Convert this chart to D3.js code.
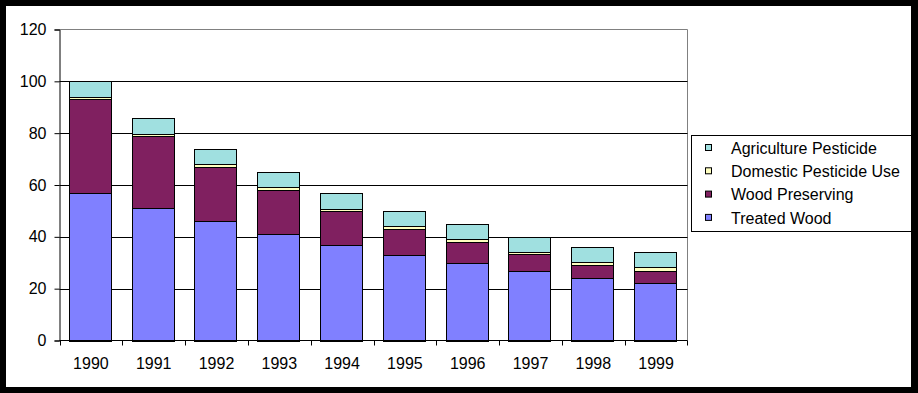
<!DOCTYPE html>
<html><head><meta charset="utf-8">
<script src="https://cdn.jsdelivr.net/npm/d3@7"></script>
<style>
html,body{margin:0;padding:0;background:#000;}
svg{display:block;}
text{font-family:"Liberation Sans",Arial,sans-serif;}
</style></head>
<body>
<script>
const years = ["1990","1991","1992","1993","1994","1995","1996","1997","1998","1999"];
const treatedWood = [57, 51, 46, 41, 37, 33, 30, 27, 24, 22];
const woodPreserving = [36, 28, 21, 17, 13, 10, 8, 6.2, 5, 5];
const domesticPesticide = [1.1, 0.8, 1, 1.1, 0.8, 1.2, 1.2, 0.9, 1.2, 1.2];
const agriculturePesticide = [5.9, 6.2, 6, 5.9, 6.2, 5.8, 5.8, 5.9, 5.8, 5.8];
const seriesNames = ["Treated Wood","Wood Preserving","Domestic Pesticide Use","Agriculture Pesticide"];
const seriesColors = ["#8080FF","#802060","#FFFFC0","#A0E0E0"];
const yTicks = [0,20,40,60,80,100,120];

const W = 918, H = 393;
const svg = d3.select("body").append("svg").attr("width", W).attr("height", H);
svg.append("rect").attr("x",0).attr("y",0).attr("width",W).attr("height",H).attr("fill","#000");
svg.append("rect").attr("x",6).attr("y",6).attr("width",905).attr("height",381).attr("fill","#fff");

const L = 59.5, R = 687.5, T = 29.5, B = 340.5;
const x = d3.scaleBand().domain(years).range([L, R]).paddingInner(0.33).paddingOuter(0.165);
const xb = d3.scaleBand().domain(years).range([L, R]);
const y = d3.scaleLinear().domain([0,120]).range([B, T]);

svg.append("path").attr("d", `M${L},${T}H${R}V${B}`).attr("fill","none").attr("stroke","#808080").attr("stroke-width",1);
svg.append("g").selectAll("line").data(yTicks.filter(d=>d>0 && d<120)).join("line")
  .attr("x1", L).attr("x2", R).attr("y1", d=>Math.round(y(d))+0.5).attr("y2", d=>Math.round(y(d))+0.5)
  .attr("stroke","#000").attr("stroke-width",1);

const rows = years.map((yr,i)=>({year:yr, "Treated Wood":treatedWood[i], "Wood Preserving":woodPreserving[i],
  "Domestic Pesticide Use":domesticPesticide[i], "Agriculture Pesticide":agriculturePesticide[i]}));
const stack = d3.stack().keys(seriesNames)(rows);
svg.append("g").selectAll("g").data(stack).join("g")
  .attr("fill", (d,i)=>seriesColors[i])
  .selectAll("rect").data(d=>d).join("rect")
  .attr("x", d=>Math.round(x(d.data.year))-0.5)
  .attr("width", Math.round(x.bandwidth()))
  .attr("y", d=>Math.round(y(d[1]))+0.5)
  .attr("height", d=>Math.round(y(d[0]))-Math.round(y(d[1])))
  .attr("stroke","#000").attr("stroke-width",1);

const ya = svg.append("g").attr("transform",`translate(${L},0)`)
  .call(d3.axisLeft(y).tickValues(yTicks).tickSize(5).tickPadding(8));
ya.select(".domain").attr("stroke","#000");
ya.selectAll("line").attr("stroke","#000");
ya.selectAll("text").attr("font-size","16px").attr("fill","#000").attr("font-family","Liberation Sans, Arial, sans-serif");

const xa = svg.append("g").attr("transform",`translate(0,${B})`);
xa.append("line").attr("x1",L).attr("x2",R).attr("stroke","#000");
xa.selectAll("line.tk").data(years.concat(["end"])).join("line").attr("class","tk")
  .attr("x1",(d,i)=>i<years.length?Math.round(xb(d))+0.5:R).attr("x2",(d,i)=>i<years.length?Math.round(xb(d))+0.5:R)
  .attr("y1",0).attr("y2",5).attr("stroke","#000");
xa.selectAll("text").data(years).join("text")
  .attr("x", d=>xb(d)+xb.bandwidth()/2).attr("y", 28.5)
  .attr("text-anchor","middle").attr("font-size","16px").attr("fill","#000").text(d=>d);

const lg = svg.append("g");
lg.append("rect").attr("x",691.5).attr("y",135.5).attr("width",225).attr("height",96).attr("fill","#fff").attr("stroke","#000");
const legendOrder = [3,2,1,0];
const lgi = lg.selectAll("g.item").data(legendOrder).join("g").attr("class","item")
  .attr("transform",(d,i)=>`translate(0,${148+i*23.3})`);
lgi.append("rect").attr("x",705.5).attr("y",-3.5).attr("width",6).attr("height",6)
  .attr("fill",d=>seriesColors[d]).attr("stroke","#000");
lgi.append("text").attr("x",731).attr("y",0).attr("dy","0.35em").attr("font-size","16px").attr("fill","#000")
  .text(d=>seriesNames[d]);

svg.append("rect").attr("x",911).attr("y",0).attr("width",7).attr("height",H).attr("fill","#000");
</script>
</body></html>
